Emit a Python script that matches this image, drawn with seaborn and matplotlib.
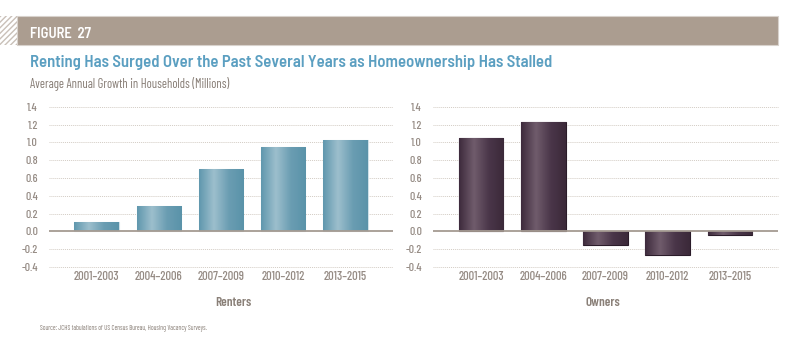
import numpy as np
import pandas as pd
import matplotlib
matplotlib.use("Agg")
import matplotlib.pyplot as plt
import seaborn as sns
from matplotlib.colors import LinearSegmentedColormap
from matplotlib.patches import Rectangle

periods = ["2001–2003", "2004–2006", "2007–2009", "2010–2012", "2013–2015"]
renters = [0.11, 0.29, 0.70, 0.95, 1.03]
owners = [1.05, 1.23, -0.155, -0.265, -0.045]
y_ticks = [-0.4, -0.2, 0.0, 0.2, 0.4, 0.6, 0.8, 1.0, 1.2, 1.4]

sns.set_theme(style="white")
plt.rcParams["font.family"] = ["Barlow Condensed", "DejaVu Sans"]
semi = ["Barlow Semi Condensed", "Barlow Condensed", "DejaVu Sans"]

grey = "#958b84"
fig = plt.figure(figsize=(8, 3.59), dpi=100)

# header band
fig.patches.append(Rectangle((0, 1 - 45 / 359), 17 / 800, 29 / 359, transform=fig.transFigure,
                             facecolor="white", edgecolor="#c9c0b8", hatch="//////", lw=0))
fig.patches.append(Rectangle((17 / 800, 1 - 45 / 359), 761 / 800, 29 / 359, transform=fig.transFigure,
                             facecolor="#ab9d90", edgecolor="#d8d2cc", lw=0.8))
fig.text(30 / 800, 1 - 34 / 359, "FIGURE  27", color="white", fontsize=10.5, fontweight=600,
         family=semi, va="center", ha="left")
fig.text(30 / 800, 1 - 62 / 359, "Renting Has Surged Over the Past Several Years as Homeownership Has Stalled",
         color="#5b9fc1", fontsize=12, fontweight=600, family=semi, va="center", ha="left")
fig.text(30 / 800, 1 - 84 / 359, "Average Annual Growth in Households (Millions)",
         color="#857b73", fontsize=9, va="center", ha="left")


def add_gradient(ax, cmap):
    grad = np.linspace(0, 1, 256).reshape(1, -1)
    for p in ax.patches:
        x0, y0 = p.get_x(), p.get_y()
        w, h = p.get_width(), p.get_height()
        im = ax.imshow(grad, cmap=cmap, aspect="auto", extent=(x0, x0 + w, min(y0, y0 + h), max(y0, y0 + h)),
                       zorder=p.get_zorder() + 0.1, interpolation="bicubic")
        im.set_clip_path(p)


def draw_panel(ax, values, cmap, edge, label, xc):
    df = pd.DataFrame({"period": periods, "value": values})
    sns.barplot(data=df, x="period", y="value", ax=ax, color=cmap(0.5), width=0.72,
                edgecolor=edge, linewidth=0.8, zorder=3)
    add_gradient(ax, cmap)
    for p in ax.patches:
        p.set_zorder(3)
    ax.set_xlim(-0.77, 4.77)
    ax.set_ylim(-0.4, 1.4)
    ax.set_yticks(y_ticks)
    ax.set_yticklabels([f"{t:.1f}" for t in y_ticks])
    for t in y_ticks:
        if t != 0:
            ax.axhline(t, color="#d3ccc4", lw=0.7, ls=(0, (1, 1)), zorder=1, clip_on=False)
    ax.axhline(0, color="#a59b92", lw=1.3, zorder=4)
    ax.set_xlabel("")
    ax.set_ylabel("")
    sns.despine(ax=ax, left=True, bottom=True)
    ax.tick_params(axis="both", length=0, labelsize=8.5, colors=grey)
    ax.tick_params(axis="y", pad=8)
    ax.tick_params(axis="x", pad=3, labelsize=9)
    for lab in ax.get_xticklabels() + ax.get_yticklabels():
        lab.set_fontweight(500)
    ax.grid(False)
    fig.text(xc, 1 - 303 / 359, label, color="#8a8078", fontsize=9.5, fontweight=600,
             ha="center", va="center")


blue = LinearSegmentedColormap.from_list("blue", ["#5f97ad", "#9dbfcd", "#6a9db2", "#5a93a9"])
plum = LinearSegmentedColormap.from_list("plum", ["#3d2a3c", "#705c6c", "#4a3649", "#3b2939"])

ax1 = fig.add_axes([49 / 800, 1 - 267 / 359, 344 / 800, 160.3 / 359])
draw_panel(ax1, renters, blue, "#cfe0e8", "Renters", 233 / 800)

ax2 = fig.add_axes([433 / 800, 1 - 267 / 359, 345 / 800, 160.3 / 359])
draw_panel(ax2, owners, plum, "#2a1b29", "Owners", 603 / 800)

fig.text(40 / 800, 1 - 328 / 359, "Source: JCHS tabulations of US Census Bureau, Housing Vacancy Surveys.",
         color="#857b73", fontsize=4.8, ha="left", va="center")

fig.savefig("out.png", dpi=100)
